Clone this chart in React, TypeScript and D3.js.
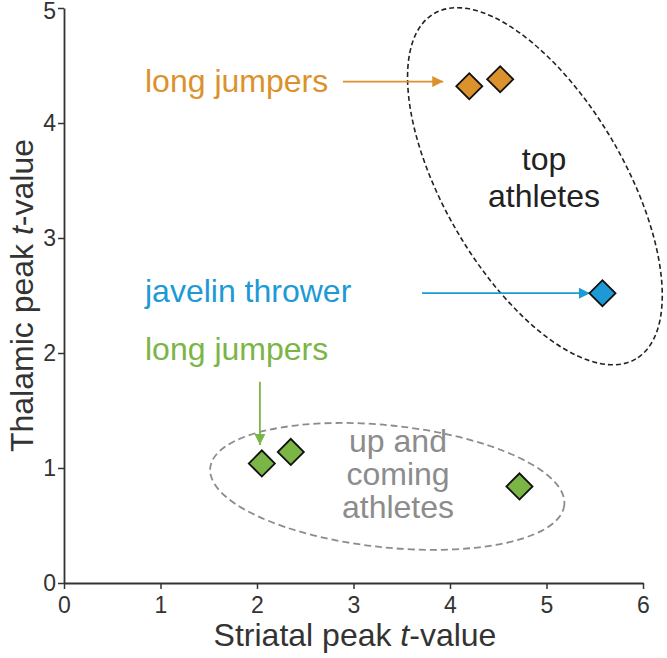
import React, { useEffect, useRef } from 'react';
import * as d3 from 'd3';

// valores de los puntos
const topJumpX = [4.2, 4.52];
const topJumpY = [4.32, 4.38];
const javelinX = [5.58];
const javelinY = [2.52];
const upX = [2.05, 2.35, 4.72];
const upY = [1.04, 1.14, 0.84];

const xTicks = [0, 1, 2, 3, 4, 5, 6];
const yTicks = [0, 1, 2, 3, 4, 5];

const ORANGE = '#dc922c';
const BLUE = '#1d9ad6';
const GREEN = '#7ab546';
const GRAY = '#8c8c8c';
const FONT = 'Liberation Sans, Arial, sans-serif';

function App() {
  const ref = useRef<SVGSVGElement>(null);

  useEffect(() => {
    const width = 667, height = 658;
    const svg = d3.select(ref.current);
    svg.selectAll('*').remove();

    const x = d3.scaleLinear().domain([0, 6]).range([64, 643]);
    const y = d3.scaleLinear().domain([0, 5]).range([583, 8]);

    const defs = svg.append('defs');
    [['orange', ORANGE], ['blue', BLUE], ['green', GREEN]].forEach(([id, c]) => {
      defs.append('marker').attr('id', 'arr-' + id)
        .attr('viewBox', '0 0 10 10').attr('refX', 10).attr('refY', 5)
        .attr('markerWidth', 12).attr('markerHeight', 11).attr('markerUnits', 'userSpaceOnUse')
        .attr('orient', 'auto')
        .append('path').attr('d', 'M0,0 L10,5 L0,10 Z').attr('fill', c);
    });

    // elipses
    svg.append('ellipse')
      .attr('transform', `translate(${x(4.88)},${y(3.45)}) rotate(59.7)`)
      .attr('rx', 200).attr('ry', 90)
      .attr('fill', 'none').attr('stroke', '#222').attr('stroke-width', 1.6)
      .attr('stroke-dasharray', '5,3');
    svg.append('ellipse')
      .attr('transform', `translate(${x(3.35)},${y(0.84)}) rotate(6)`)
      .attr('rx', 178).attr('ry', 61)
      .attr('fill', 'none').attr('stroke', GRAY).attr('stroke-width', 1.8)
      .attr('stroke-dasharray', '7,4');

    // ejes
    const axisColor = '#333';
    const gx = svg.append('g').attr('transform', `translate(0,${y(0)})`)
      .call(d3.axisBottom(x).tickValues(xTicks).tickFormat(d3.format('d')).tickSize(6).tickPadding(8).tickSizeOuter(0));
    gx.select('.domain').attr('stroke', axisColor).attr('stroke-width', 1.8);
    gx.selectAll('.tick line').attr('stroke', axisColor).attr('stroke-width', 1.5);
    gx.selectAll('.tick text').attr('font-size', 23).attr('font-family', FONT).attr('fill', '#333');

    const gy = svg.append('g').attr('transform', `translate(${x(0)},0)`)
      .call(d3.axisLeft(y).tickValues(yTicks).tickFormat(d3.format('d')).tickSize(6).tickPadding(2).tickSizeOuter(0));
    gy.select('.domain').attr('stroke', axisColor).attr('stroke-width', 1.8);
    gy.selectAll('.tick line').attr('stroke', axisColor).attr('stroke-width', 1.5);
    gy.selectAll('.tick text').attr('font-size', 23).attr('font-family', FONT).attr('fill', '#333')
      .attr('dy', (d: any) => (d === 5 ? '0.45em' : '0.32em'));

    // titulos de ejes
    const xt = svg.append('text').attr('x', 355).attr('y', 646)
      .attr('text-anchor', 'middle').attr('font-size', 32).attr('font-family', FONT).attr('fill', '#333');
    xt.append('tspan').text('Striatal peak ');
    xt.append('tspan').attr('font-style', 'italic').text('t');
    xt.append('tspan').text('-value');

    const yt = svg.append('text').attr('transform', `translate(33,${(y(0) + y(5)) / 2}) rotate(-90)`)
      .attr('text-anchor', 'middle').attr('font-size', 32).attr('font-family', FONT).attr('fill', '#333');
    yt.append('tspan').text('Thalamic peak ');
    yt.append('tspan').attr('font-style', 'italic').text('t');
    yt.append('tspan').text('-value');

    // flechas
    const arrow = (x1: number, y1: number, x2: number, y2: number, c: string, id: string) =>
      svg.append('line').attr('x1', x(x1)).attr('y1', y(y1)).attr('x2', x(x2)).attr('y2', y(y2))
        .attr('stroke', c).attr('stroke-width', 1.8).attr('marker-end', `url(#arr-${id})`);
    arrow(2.89, 4.36, 3.93, 4.36, ORANGE, 'orange');
    arrow(3.71, 2.52, 5.45, 2.52, BLUE, 'blue');
    arrow(2.03, 1.75, 2.03, 1.2, GREEN, 'green');

    // etiquetas
    const label = (t: string, px: number, py: number, c: string, anchor = 'start') =>
      svg.append('text').attr('x', px).attr('y', py).attr('text-anchor', anchor)
        .attr('font-size', 32).attr('font-family', FONT).attr('fill', c).text(t);
    label('long jumpers', 145, 92, ORANGE);
    label('javelin thrower', 145, 302, BLUE);
    label('long jumpers', 145, 360, GREEN);
    label('top', 544, 170, '#222', 'middle');
    label('athletes', 544, 207, '#222', 'middle');
    label('up and', 398, 452, GRAY, 'middle');
    label('coming', 398, 485, GRAY, 'middle');
    label('athletes', 398, 518, GRAY, 'middle');

    // diamantes
    const diamond = d3.symbol().type(d3.symbolSquare).size(340);
    const drawPts = (xs: number[], ys: number[], c: string) =>
      svg.append('g').selectAll('path').data(xs.map((v, i) => [v, ys[i]]))
        .enter().append('path').attr('d', diamond)
        .attr('transform', d => `translate(${x(d[0])},${y(d[1])}) rotate(45)`)
        .attr('fill', c).attr('stroke', '#111').attr('stroke-width', 1.8);
    drawPts(topJumpX, topJumpY, ORANGE);
    drawPts(javelinX, javelinY, BLUE);
    drawPts(upX, upY, GREEN);

    svg.attr('width', width).attr('height', height);
  }, []);

  return <svg ref={ref} width={667} height={658} style={{ position: 'absolute', left: 0, top: 0, background: '#fff' }} />;
}

export default App;
